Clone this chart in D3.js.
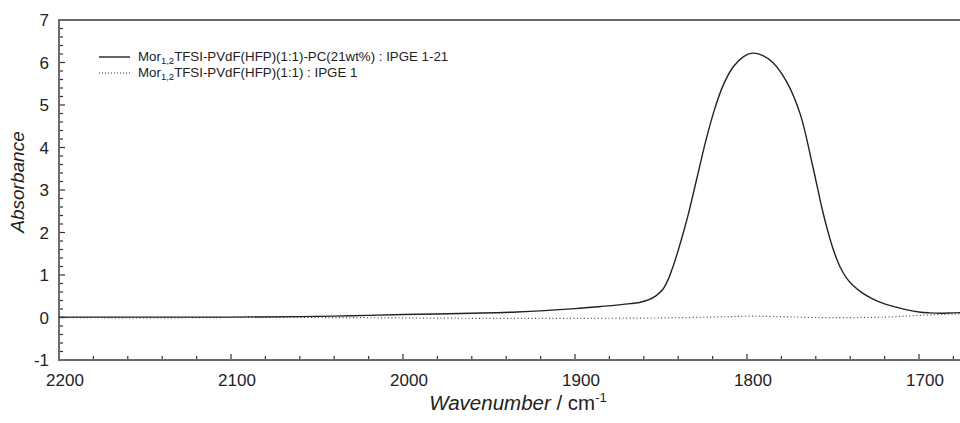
<!DOCTYPE html>
<html>
<head>
<meta charset="utf-8">
<script src="https://cdn.jsdelivr.net/npm/d3@7"></script>
<style>
  body { margin: 0; background: #fff; }
  svg { display: block; font-family: "Liberation Sans", Arial, sans-serif; }
</style>
</head>
<body>
<script>
// Chart size
var svgWidth = 960;
var svgHeight = 423;
var margin = { top: 20, left: 59, bottom: 63 };
var plotHeight = svgHeight - margin.top - margin.bottom;

// Data
var wnSolid = [2200, 2150, 2100, 2060, 2030, 2000, 1960, 1934, 1900, 1885, 1872, 1862, 1857, 1853,
  1849, 1846, 1843, 1840, 1837, 1834, 1829, 1824, 1819, 1814, 1808, 1802, 1797, 1791, 1785, 1777, 1769,
  1762, 1756, 1753, 1750, 1746, 1742, 1738, 1733, 1727, 1720, 1713, 1707, 1700, 1694, 1688, 1680, 1670];
var absSolid = [0.01, 0.01, 0.01, 0.02, 0.04, 0.07, 0.10, 0.13, 0.21, 0.26, 0.31, 0.36, 0.42, 0.51,
  0.66, 0.88, 1.2, 1.58, 2.0, 2.45, 3.3, 4.15, 4.88, 5.45, 5.9, 6.14, 6.22, 6.17, 6.0, 5.55, 4.78,
  3.6, 2.5, 2.03, 1.62, 1.2, 0.92, 0.74, 0.58, 0.44, 0.32, 0.24, 0.18, 0.13, 0.11, 0.10, 0.11, 0.12];
var wnDotted = [2200, 2150, 2100, 2050, 2000, 1950, 1900, 1850, 1820, 1800, 1780, 1760, 1720, 1700, 1680, 1670];
var absDotted = [0.0, -0.01, 0.0, 0.0, -0.01, -0.02, -0.02, -0.01, 0.01, 0.03, 0.02, 0.0, 0.01, 0.05, 0.08, 0.09];

var xMajor = [2200, 2100, 2000, 1900, 1800, 1700];
var yMajor = [-1, 0, 1, 2, 3, 4, 5, 6, 7];
var legendLabels = [
  { main: "Mor", sub: "1,2", rest: "TFSI-PVdF(HFP)(1:1)-PC(21wt%) : IPGE 1-21", dash: null },
  { main: "Mor", sub: "1,2", rest: "TFSI-PVdF(HFP)(1:1) : IPGE 1", dash: "1,2" }
];

var svg = d3.select("body").append("svg")
  .attr("width", svgWidth)
  .attr("height", svgHeight);

// 100 cm-1 = 172 px, axis runs past the right edge of the picture
var xScale = d3.scaleLinear().domain([2200, 1650]).range([margin.left, margin.left + 550 * 1.72]);
var yScale = d3.scaleLinear().domain([-1, 7]).range([margin.top + plotHeight, margin.top]);

var axisColor = "#6b6b6b";

// minor ticks
var xMinor = d3.range(2200, 1640, -20);
var yMinor = d3.range(-1, 7.01, 0.2);

var ticks = svg.append("g");
ticks.selectAll(".xm").data(xMinor).enter().append("line")
  .attr("x1", d => xScale(d)).attr("x2", d => xScale(d))
  .attr("y1", yScale(-1)).attr("y2", d => yScale(-1) - (d % 100 === 0 ? 6 : 4))
  .attr("stroke", "#333").attr("stroke-width", 1.2);
ticks.selectAll(".ym").data(yMinor).enter().append("line")
  .attr("x1", margin.left).attr("x2", d => margin.left + (Math.abs(d - Math.round(d)) < 1e-6 ? 6 : 4))
  .attr("y1", d => yScale(d)).attr("y2", d => yScale(d))
  .attr("stroke", "#333").attr("stroke-width", 1.2);

// frame (left, top, bottom)
svg.append("path")
  .attr("d", `M${svgWidth + 5},${yScale(7)}H${margin.left}V${yScale(-1)}H${svgWidth + 5}`)
  .attr("fill", "none")
  .attr("stroke", axisColor)
  .attr("stroke-width", 2);

// tick labels
svg.selectAll(".xl").data(xMajor).enter().append("text")
  .attr("x", d => xScale(d) + 6)
  .attr("y", yScale(-1) + 26)
  .attr("text-anchor", "middle")
  .attr("font-size", 17)
  .attr("fill", "#222")
  .text(d => d);
svg.selectAll(".yl").data(yMajor).enter().append("text")
  .attr("x", margin.left - 10)
  .attr("y", d => yScale(d) + 6)
  .attr("text-anchor", "end")
  .attr("font-size", 17)
  .attr("fill", "#222")
  .text(d => d);

// axis titles
svg.append("text")
  .attr("transform", `translate(${24}, ${182}) rotate(-90)`)
  .attr("text-anchor", "middle")
  .attr("font-size", 19)
  .attr("font-style", "italic")
  .attr("fill", "#222")
  .text("Absorbance");

var xt = svg.append("text")
  .attr("x", 518)
  .attr("y", 410)
  .attr("text-anchor", "middle")
  .attr("font-size", 20.5)
  .attr("fill", "#222");
xt.append("tspan").attr("font-style", "italic").text("Wavenumber");
xt.append("tspan").text(" / cm");
xt.append("tspan").attr("font-size", 13).attr("dy", -8).text("-1");

// curves
var line = d3.line()
  .x(d => xScale(d[0]))
  .y(d => yScale(d[1]))
  .curve(d3.curveCatmullRom.alpha(0.5));

var plot = svg.append("g");
plot.append("path")
  .datum(d3.zip(wnDotted, absDotted))
  .attr("d", line)
  .attr("fill", "none")
  .attr("stroke", "#444")
  .attr("stroke-width", 1.2)
  .attr("stroke-dasharray", "1,2.5");
plot.append("path")
  .datum(d3.zip(wnSolid, absSolid))
  .attr("d", line)
  .attr("fill", "none")
  .attr("stroke", "#222")
  .attr("stroke-width", 1.4);

// legend
var legend = svg.append("g");
legendLabels.forEach(function (item, i) {
  var y = 57 + i * 16;
  legend.append("line")
    .attr("x1", 99).attr("x2", 130)
    .attr("y1", y).attr("y2", y)
    .attr("stroke", "#222")
    .attr("stroke-width", item.dash ? 1.2 : 1.4)
    .attr("stroke-dasharray", item.dash);
  var t = legend.append("text")
    .attr("x", 138)
    .attr("y", y + 4)
    .attr("font-size", 13.3)
    .attr("fill", "#222");
  t.append("tspan").text(item.main);
  t.append("tspan").attr("font-size", 9.5).attr("dy", 3).text(item.sub);
  t.append("tspan").attr("dy", -3).text(item.rest);
});
</script>
</body>
</html>
